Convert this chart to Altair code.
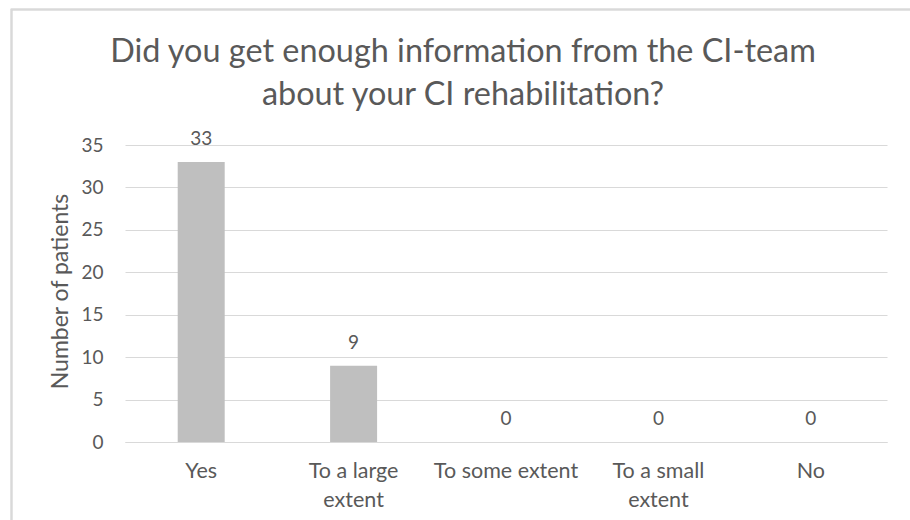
import altair as alt
import pandas as pd

# Survey answers and patient counts
answers = ["Yes", "To a large extent", "To some extent", "To a small extent", "No"]
patients = [33, 9, 0, 0, 0]

title_lines = [
    "Did you get enough information from the CI-team",
    "about your CI rehabilitation?",
]
y_ticks = [0, 5, 10, 15, 20, 25, 30, 35]

df = pd.DataFrame({"answer": answers, "patients": patients})

FONT = "Lato"
TEXT = "#595959"
GRID = "#D9D9D9"

wrap_expr = (
    "datum.label == 'To a large extent' ? ['To a large', 'extent'] : "
    "datum.label == 'To a small extent' ? ['To a small', 'extent'] : datum.label"
)

x_enc = alt.X(
    "answer:N",
    sort=answers,
    title=None,
    scale=alt.Scale(paddingInner=0, paddingOuter=0),
    axis=alt.Axis(
        labelExpr=wrap_expr,
        labelAngle=0,
        labelFont=FONT,
        labelFontSize=21.5,
        labelColor=TEXT,
        labelPadding=18,
        labelLineHeight=29,
        labelBaseline="top",
        ticks=False,
        domain=True,
        domainColor=GRID,
        domainWidth=1,
        grid=False,
    ),
)
y_enc = alt.Y(
    "patients:Q",
    scale=alt.Scale(domain=[0, 35], nice=False),
    axis=alt.Axis(
        values=y_ticks,
        title="Number of patients",
        titleFont=FONT,
        titleFontSize=23,
        titleFontWeight="normal",
        titleColor=TEXT,
        titleX=-65,
        titleY=146,
        titleAngle=-90,
        titleAlign="center",
        titleBaseline="middle",
        labelFont=FONT,
        labelFontSize=19,
        labelColor=TEXT,
        labelPadding=22,
        ticks=False,
        domain=False,
        grid=True,
        gridColor=GRID,
        gridWidth=1,
    ),
)

bars = alt.Chart(df).mark_bar(size=47, color="#BFBFBF").encode(x=x_enc, y=y_enc)

labels = alt.Chart(df).mark_text(
    font=FONT, fontSize=19, color=TEXT, baseline="alphabetic", dy=-17
).encode(x=alt.X("answer:N", sort=answers), y="patients:Q", text="patients:Q")

# light outer border around the whole chart
frame = alt.Chart(df).mark_rect(
    fill=None, stroke=GRID, strokeWidth=1.5
).encode(
    x=alt.value(-113.5), x2=alt.value(820), y=alt.value(-135.5), y2=alt.value(420)
)

chart = (
    alt.layer(frame, bars, labels)
    .properties(
        width=762,
        height=297,
        padding={"left": 125, "top": 145, "right": 23, "bottom": 78},
        autosize=alt.AutoSizeParams(type="none"),
        background="white",
        title=alt.TitleParams(
            text=title_lines,
            font=FONT,
            fontSize=32.4,
            fontWeight="normal",
            color=TEXT,
            anchor="middle",
            frame="group",
            baseline="alphabetic",
            dx=-43,
            offset=-129,
            lineHeight=43,
        ),
    )
    .configure_view(stroke=None)
)

chart.save("out.html", embed_options={"renderer": "svg", "actions": False})
